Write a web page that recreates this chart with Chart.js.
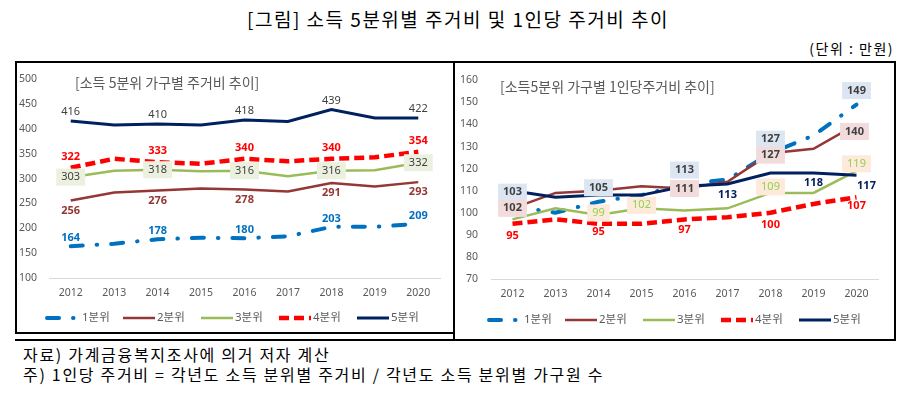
<!DOCTYPE html>
<html>
<head>
<meta charset="utf-8">
<script src="https://cdn.jsdelivr.net/npm/chart.js@4.4.0/dist/chart.umd.min.js"></script>
<style>
body { margin:0; background:#fff; width:916px; height:393px; position:relative; overflow:hidden; font-family:"Noto Sans CJK KR", sans-serif; color:#000; }
#title { position:absolute; left:0; top:5px; width:916px; text-align:center; font-size:19px; letter-spacing:1.5px; }
#unit { position:absolute; right:22px; top:38px; font-size:14px; letter-spacing:1.5px; }
#boxL { position:absolute; left:15px; top:61px; width:437px; height:269px; border:2px solid #000; border-right:none; }
#boxR { position:absolute; left:453px; top:61px; width:439px; height:278px; border:2px solid #000; border-bottom:none; }
#lineB { position:absolute; left:15px; top:339px; width:879px; height:2px; background:#000; }
#cL { position:absolute; left:15px; top:61px; }
#cR { position:absolute; left:455px; top:61px; }
.note { position:absolute; left:23px; font-size:16px; letter-spacing:1.7px; }
</style>
</head>
<body>
<div id="title">[그림] 소득 5분위별 주거비 및 1인당 주거비 추이</div>
<div id="unit">(단위 : 만원)</div>
<div id="boxL"></div>
<div id="boxR"></div>
<div id="lineB"></div>
<canvas id="cL" width="439" height="271"></canvas>
<canvas id="cR" width="439" height="279"></canvas>
<div class="note" style="top:342px">자료) 가계금융복지조사에 의거 저자 계산</div>
<div class="note" style="top:362px">주) 1인당 주거비 = 각년도 소득 분위별 주거비 / 각년도 소득 분위별 가구원 수</div>
<script>
// 연도
var years = ['2012', '2013', '2014', '2015', '2016', '2017', '2018', '2019', '2020'];
var names = ['1분위', '2분위', '3분위', '4분위', '5분위'];

// 소득 5분위 가구별 주거비 (만원)
var exp1 = [164, 169, 178, 181, 180, 184, 203, 203, 209];
var exp2 = [256, 272, 276, 280, 278, 274, 291, 284, 293];
var exp3 = [303, 316, 318, 315, 316, 305, 316, 317, 332];
var exp4 = [322, 340, 333, 330, 340, 335, 340, 343, 354];
var exp5 = [416, 408, 410, 408, 418, 415, 439, 422, 422];

// 소득 5분위 가구별 1인당 주거비 (만원)
var per1 = [103, 100, 105, 108, 113, 115, 127, 135, 149];
var per2 = [102, 109, 110, 112, 111, 114, 127, 129, 140];
var per3 = [97, 102, 99, 102, 101, 102, 109, 109, 119];
var per4 = [95, 97, 95, 95, 97, 98, 100, 104, 107];
var per5 = [110, 107, 108, 108, 112, 113, 118, 118, 117];

// 어느 연도에 값 표시를 하는지 (index)
var showL = [0, 2, 4, 6, 8];
var showR1 = [0, 2, 4, 6, 8];
var showR2 = [0, 4, 6, 8];
var showR3 = [2, 3, 6, 8];
var showR4 = [0, 2, 4, 6, 8];
var showR5 = [5, 7, 8];

var colors = ['#0070C0', '#953735', '#9BBB59', '#FF0000', '#002060'];
var widths = [4, 2.5, 2.5, 4.5, 3];
var dashes = [[12, 14, 0.5, 14], [], [], [10, 5], []];
var caps = ['round', 'butt', 'butt', 'butt', 'butt'];
var FONT = '"Noto Sans", "Noto Sans CJK KR", sans-serif';

var labelPlugin = {
    id: 'pointLabels',
    afterDatasetsDraw: function (chart, args, opts) {
        var ctx = chart.ctx;
        chart.data.datasets.forEach(function (ds, di) {
            var cfg = opts.cfg[di];
            var meta = chart.getDatasetMeta(di);
            cfg.show.forEach(function (idx, k) {
                var pt = meta.data[idx];
                var dy = Array.isArray(cfg.dy) ? cfg.dy[k] : cfg.dy;
                var dx = cfg.dx ? cfg.dx[k] : 0;
                var x = pt.x + dx, y = pt.y + dy;
                var txt = String(ds.data[idx]);
                ctx.save();
                ctx.font = (cfg.bold ? 'bold ' : '') + '11px ' + FONT;
                var w = ctx.measureText(txt).width;
                if (cfg.bg) {
                    ctx.fillStyle = cfg.bg;
                    ctx.fillRect(x - w / 2 - 5, y - 8.5, w + 10, 17);
                }
                ctx.fillStyle = cfg.color;
                ctx.textAlign = 'center';
                ctx.textBaseline = 'middle';
                ctx.fillText(txt, x, y);
                ctx.restore();
            });
        });
    },
    afterDraw: function (chart, args, opts) {
        var ctx = chart.ctx;
        ctx.save();
        // chart title
        ctx.font = '14px "Noto Sans CJK KR", sans-serif';
        ctx.fillStyle = '#595959';
        ctx.textBaseline = 'middle';
        ctx.fillText(opts.title, opts.titleX, opts.titleY);
        // legend
        var step = 78;
        var total = step * 4 + 34 + 27;
        var x0 = chart.width / 2 - total / 2 + opts.legendShift;
        var y = opts.legendY;
        ctx.font = '11.5px ' + FONT;
        chart.data.datasets.forEach(function (ds, i) {
            var x = x0 + i * step;
            ctx.save();
            ctx.strokeStyle = ds.borderColor;
            ctx.lineWidth = ds.borderWidth;
            ctx.setLineDash(ds.borderDash);
            ctx.lineCap = ds.borderCapStyle;
            ctx.beginPath();
            if (i === 0) { ctx.moveTo(x + 2, y); ctx.lineTo(x + 29, y); }
            else { ctx.moveTo(x, y); ctx.lineTo(x + 32, y); }
            ctx.stroke();
            ctx.restore();
            ctx.fillStyle = '#595959';
            ctx.fillText(ds.label, x + (i === 0 ? 37 : 34), y);
        });
        ctx.restore();
    }
};

function makeSets(arrs) {
    return arrs.map(function (d, i) {
        return {
            label: names[i],
            data: d,
            borderColor: colors[i],
            backgroundColor: colors[i],
            borderWidth: widths[i],
            borderDash: dashes[i],
            borderCapStyle: caps[i],
            pointRadius: 0,
            tension: 0,
            order: 5 - i
        };
    });
}

function makeChart(id, arrs, yMin, yMax, yStep, yWidth, yPad, pad, xHeight, plug) {
    new Chart(document.getElementById(id), {
        type: 'line',
        data: { labels: years, datasets: makeSets(arrs) },
        plugins: [labelPlugin],
        options: {
            responsive: false,
            animation: false,
            layout: { padding: pad },
            plugins: {
                legend: { display: false },
                tooltip: { enabled: false },
                pointLabels: plug
            },
            scales: {
                x: {
                    offset: true,
                    grid: { display: false, drawTicks: false },
                    border: { color: '#D9D9D9', width: 1 },
                    ticks: { color: '#595959', font: { family: FONT, size: 10.5 }, padding: 9 },
                    afterFit: function (s) { s.height = xHeight; }
                },
                y: {
                    min: yMin, max: yMax,
                    grid: { display: false, drawTicks: false },
                    border: { display: false },
                    ticks: { stepSize: yStep, color: '#595959', font: { family: FONT, size: 10.5 }, padding: yPad },
                    afterFit: function (s) { s.width = yWidth; }
                }
            }
        }
    });
}

makeChart('cL', [exp1, exp2, exp3, exp4, exp5], 100, 500, 50, 34, 12,
    { left: 0, right: 14, top: 11, bottom: 0 }, 54, {
    title: '[소득 5분위 가구별 주거비 추이]', titleX: 60, titleY: 22,
    legendY: 257, legendShift: -3,
    cfg: [
        { show: showL, dy: -8, color: '#0070C0', bold: true },
        { show: showL, dy: 10, color: '#953735', bold: true },
        { show: showL, dy: 0, color: '#404040', bg: '#EBF1DE' },
        { show: showL, dy: -11, color: '#FF0000', bold: true },
        { show: showL, dy: -9, color: '#404040' }
    ]
});

makeChart('cR', [per1, per2, per3, per4, per5], 70, 160, 10, 36, 13,
    { left: 0, right: 16, top: 11, bottom: 0 }, 61, {
    title: '[소득5분위 가구별 1인당주거비 추이]', titleX: 45, titleY: 26,
    legendY: 259, legendShift: -1,
    cfg: [
        { show: showR1, dy: -14, color: '#404040', bg: '#DCE6F2', bold: true },
        { show: showR2, dy: [0, 0, 2, 7], dx: [0, 0, 0, -2], color: '#404040', bg: '#F2DCDB', bold: true },
        { show: showR3, dy: [-2, -3, -6, -7], color: '#92D050', bg: '#FDEADA' },
        { show: showR4, dy: [12, 8, 10, 12, 9], color: '#FF0000', bold: true },
        { show: showR5, dy: [11, 10, 11], dx: [0, 0, 10], color: '#002060', bold: true }
    ]
});
</script>
</body>
</html>
